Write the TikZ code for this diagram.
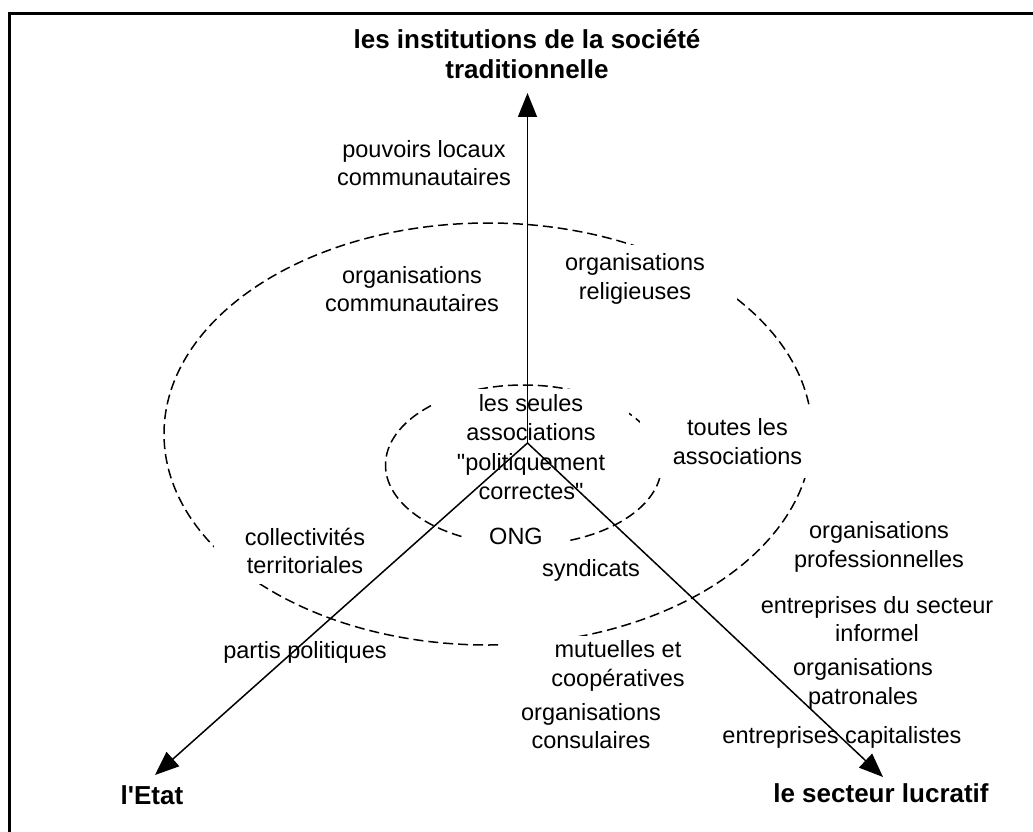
\documentclass[tikz,border=0pt]{standalone}
\usepackage{fontspec}
\setmainfont{Liberation Sans}[Ligatures=TeXOff]
\usetikzlibrary{arrows.meta}
\begin{document}
\begin{tikzpicture}[x=1pt,y=-1pt,
  lbl/.style={font=\fontsize{23.5}{28.5}\selectfont, align=center, inner sep=1pt, fill=white},
  mask/.style={lbl, inner sep=0pt},
  ttl/.style={font=\fontsize{26}{30}\selectfont\bfseries, align=center, inner sep=0pt},
  ring/.style={dash pattern=on 10pt off 5pt, line width=1.5pt},
  axis/.style={line width=1.5pt, -{Triangle[length=24pt,width=19pt]}}]
\useasboundingbox (0,0) rectangle (1033,832);
\draw[line width=3pt] (9,14) rectangle (1045,845);
% dashed rings
\draw[ring] (488,434) ellipse [x radius=324pt, y radius=211pt];
\draw[ring] (523.5,465) ellipse [x radius=138pt, y radius=80pt];
% labels
\node[ttl] (title) at (527,54) {les institutions de la société\\traditionnelle};
\node[lbl] (pouv) at (424,163) {pouvoirs locaux\\communautaires};
\node[lbl] (orgcom) at (412,289) {organisations\\communautaires};
\node[mask, minimum width=204pt, minimum height=68pt] (orgrel) at (635,279) {organisations\\religieuses};
\node[mask, font=\fontsize{23.5}{29.5}\selectfont, minimum width=196pt, minimum height=117pt] (seules) at (531,447) {les seules\\associations\\"politiquement\\correctes"};
\node[mask, minimum width=195pt, minimum height=73pt] (toutes) at (737.5,441.5) {toutes les\\associations};
\node[mask, minimum width=182pt, minimum height=66pt] (coll) at (305,551) {collectivités\\territoriales};
\node[mask, minimum width=105pt, minimum height=28pt] (ong) at (516,536) {ONG};
\node[lbl] (synd) at (591,570) {syndicats};
\node[lbl] (prof) at (879,547) {organisations\\professionnelles};
\node[lbl] (partis) at (305,652) {partis politiques};
\node[lbl] (infor) at (877,619) {entreprises du secteur\\informel};
\node[mask, minimum width=230pt, minimum height=60pt] (mutu) at (618,666) {mutuelles et\\coopératives};
\node[lbl] (patr) at (863,684) {organisations\\patronales};
\node[lbl] (cons) at (591,726) {organisations\\consulaires};
\node[lbl] (capi) at (842,737) {entreprises capitalistes};
\node[ttl] (etat) at (152,795) {l'Etat};
\node[ttl] (lucr) at (881,793) {le secteur lucratif};
% axes
\coordinate (O) at (527.5,443);
\coordinate (tipT) at (527.5,93);
\coordinate (tipL) at (155,775);
\coordinate (tipR) at (883,777);
\draw[axis] (O) -- (tipT);
\draw[axis] (O) -- (tipL);
\draw[axis] (O) -- (tipR);
\end{tikzpicture}
\end{document}
